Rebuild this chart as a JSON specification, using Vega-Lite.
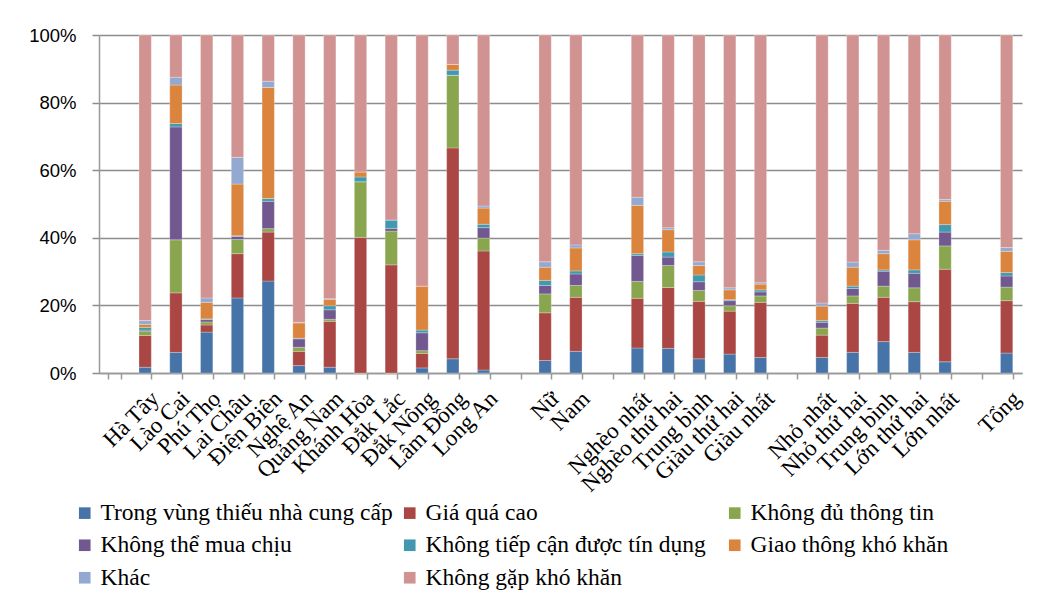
{
  "$schema": "https://vega.github.io/schema/vega-lite/v6.json",
  "autosize": {"type": "none"},
  "width": 923,
  "height": 338,
  "padding": {"left": 99, "top": 35, "right": 18, "bottom": 229},
  "background": "white",
  "config": {"view": {"stroke": null}},
  "datasets": {
    "series": [
      {"s": "Trong vùng thiếu nhà cung cấp", "k": 1},
      {"s": "Giá quá cao", "k": 2},
      {"s": "Không đủ thông tin", "k": 3},
      {"s": "Không thể mua chịu", "k": 4},
      {"s": "Không tiếp cận được tín dụng", "k": 5},
      {"s": "Giao thông khó khăn", "k": 6},
      {"s": "Khác", "k": 7},
      {"s": "Không gặp khó khăn", "k": 8}
    ]
  },
  "data": {"values": [
    {"c": "Hà Tây", "Trong vùng thiếu nhà cung cấp": 1.7, "Giá quá cao": 9.4, "Không đủ thông tin": 1.3, "Không thể mua chịu": 0.3, "Không tiếp cận được tín dụng": 0.8, "Giao thông khó khăn": 0.9, "Khác": 1.1, "Không gặp khó khăn": 84.5},
    {"c": "Lào Cai", "Trong vùng thiếu nhà cung cấp": 6.1, "Giá quá cao": 17.6, "Không đủ thông tin": 15.7, "Không thể mua chịu": 33.4, "Không tiếp cận được tín dụng": 1.0, "Giao thông khó khăn": 11.4, "Khác": 2.3, "Không gặp khó khăn": 12.5},
    {"c": "Phú Thọ", "Trong vùng thiếu nhà cung cấp": 12.1, "Giá quá cao": 2.1, "Không đủ thông tin": 0.9, "Không thể mua chịu": 0.7, "Không tiếp cận được tín dụng": 0.2, "Giao thông khó khăn": 4.9, "Khác": 1.3, "Không gặp khó khăn": 77.8},
    {"c": "Lai Châu", "Trong vùng thiếu nhà cung cấp": 22.2, "Giá quá cao": 13.1, "Không đủ thông tin": 4.2, "Không thể mua chịu": 0.9, "Không tiếp cận được tín dụng": 0.2, "Giao thông khó khăn": 15.3, "Khác": 7.9, "Không gặp khó khăn": 36.2},
    {"c": "Điện Biên", "Trong vùng thiếu nhà cung cấp": 27.2, "Giá quá cao": 14.5, "Không đủ thông tin": 1.0, "Không thể mua chịu": 8.1, "Không tiếp cận được tín dụng": 0.8, "Giao thông khó khăn": 32.9, "Khác": 1.8, "Không gặp khó khăn": 13.7},
    {"c": "Nghệ An", "Trong vùng thiếu nhà cung cấp": 2.2, "Giá quá cao": 4.2, "Không đủ thông tin": 1.2, "Không thể mua chịu": 2.5, "Không tiếp cận được tín dụng": 0.2, "Giao thông khó khăn": 4.5, "Khác": 0.2, "Không gặp khó khăn": 85.0},
    {"c": "Quảng Nam", "Trong vùng thiếu nhà cung cấp": 1.7, "Giá quá cao": 13.6, "Không đủ thông tin": 0.6, "Không thể mua chịu": 2.8, "Không tiếp cận được tín dụng": 1.2, "Giao thông khó khăn": 1.9, "Khác": 0.2, "Không gặp khó khăn": 78.0},
    {"c": "Khánh Hòa", "Trong vùng thiếu nhà cung cấp": 0, "Giá quá cao": 40.1, "Không đủ thông tin": 16.5, "Không thể mua chịu": 0, "Không tiếp cận được tín dụng": 1.4, "Giao thông khó khăn": 1.5, "Khác": 0, "Không gặp khó khăn": 40.5},
    {"c": "Đắk Lắc", "Trong vùng thiếu nhà cung cấp": 0, "Giá quá cao": 32.0, "Không đủ thông tin": 10.0, "Không thể mua chịu": 0.8, "Không tiếp cận được tín dụng": 2.5, "Giao thông khó khăn": 0, "Khác": 0, "Không gặp khó khăn": 54.7},
    {"c": "Đắk Nông", "Trong vùng thiếu nhà cung cấp": 1.5, "Giá quá cao": 4.3, "Không đủ thông tin": 0.8, "Không thể mua chịu": 5.3, "Không tiếp cận được tín dụng": 0.8, "Giao thông khó khăn": 13.0, "Khác": 0, "Không gặp khó khăn": 74.3},
    {"c": "Lâm Đồng", "Trong vùng thiếu nhà cung cấp": 4.2, "Giá quá cao": 62.4, "Không đủ thông tin": 21.5, "Không thể mua chịu": 0, "Không tiếp cận được tín dụng": 1.5, "Giao thông khó khăn": 1.7, "Khác": 0, "Không gặp khó khăn": 8.7},
    {"c": "Long An", "Trong vùng thiếu nhà cung cấp": 0.9, "Giá quá cao": 35.2, "Không đủ thông tin": 3.8, "Không thể mua chịu": 3.1, "Không tiếp cận được tín dụng": 1.0, "Giao thông khó khăn": 4.8, "Khác": 0.6, "Không gặp khó khăn": 50.6},
    {"c": "Nữ", "Trong vùng thiếu nhà cung cấp": 3.7, "Giá quá cao": 14.1, "Không đủ thông tin": 5.6, "Không thể mua chịu": 2.5, "Không tiếp cận được tín dụng": 1.5, "Giao thông khó khăn": 3.9, "Khác": 1.6, "Không gặp khó khăn": 67.1},
    {"c": "Nam", "Trong vùng thiếu nhà cung cấp": 6.4, "Giá quá cao": 16.0, "Không đủ thông tin": 3.5, "Không thể mua chịu": 3.4, "Không tiếp cận được tín dụng": 0.9, "Giao thông khó khăn": 6.8, "Khác": 0.9, "Không gặp khó khăn": 62.1},
    {"c": "Nghèo nhất", "Trong vùng thiếu nhà cung cấp": 7.4, "Giá quá cao": 14.7, "Không đủ thông tin": 5.0, "Không thể mua chịu": 7.7, "Không tiếp cận được tín dụng": 0.5, "Giao thông khó khăn": 14.3, "Khác": 2.4, "Không gặp khó khăn": 48.0},
    {"c": "Nghèo thứ hai", "Trong vùng thiếu nhà cung cấp": 7.3, "Giá quá cao": 18.0, "Không đủ thông tin": 6.5, "Không thể mua chịu": 2.5, "Không tiếp cận được tín dụng": 1.5, "Giao thông khó khăn": 6.6, "Khác": 0.6, "Không gặp khó khăn": 57.0},
    {"c": "Trung bình", "Trong vùng thiếu nhà cung cấp": 4.2, "Giá quá cao": 17.0, "Không đủ thông tin": 3.2, "Không thể mua chịu": 2.6, "Không tiếp cận được tín dụng": 2.0, "Giao thông khó khăn": 2.8, "Khác": 1.1, "Không gặp khó khăn": 67.1},
    {"c": "Giàu thứ hai", "Trong vùng thiếu nhà cung cấp": 5.6, "Giá quá cao": 12.7, "Không đủ thông tin": 1.6, "Không thể mua chịu": 1.5, "Không tiếp cận được tín dụng": 0.3, "Giao thông khó khăn": 2.9, "Khác": 0.6, "Không gặp khó khăn": 74.8},
    {"c": "Giàu nhất", "Trong vùng thiếu nhà cung cấp": 4.6, "Giá quá cao": 16.3, "Không đủ thông tin": 1.9, "Không thể mua chịu": 1.2, "Không tiếp cận được tín dụng": 0.6, "Giao thông khó khăn": 1.7, "Khác": 0.4, "Không gặp khó khăn": 73.3},
    {"c": "Nhỏ nhất", "Trong vùng thiếu nhà cung cấp": 4.6, "Giá quá cao": 6.6, "Không đủ thông tin": 2.1, "Không thể mua chịu": 1.7, "Không tiếp cận được tín dụng": 0.5, "Giao thông khó khăn": 4.3, "Khác": 0.9, "Không gặp khó khăn": 79.3},
    {"c": "Nhỏ thứ hai", "Trong vùng thiếu nhà cung cấp": 6.1, "Giá quá cao": 14.5, "Không đủ thông tin": 2.2, "Không thể mua chịu": 2.2, "Không tiếp cận được tín dụng": 0.7, "Giao thông khó khăn": 5.6, "Khác": 1.5, "Không gặp khó khăn": 67.2},
    {"c": " Trung bình", "Trong vùng thiếu nhà cung cấp": 9.3, "Giá quá cao": 13.1, "Không đủ thông tin": 3.3, "Không thể mua chịu": 4.4, "Không tiếp cận được tín dụng": 0.4, "Giao thông khó khăn": 4.8, "Khác": 1.0, "Không gặp khó khăn": 63.7},
    {"c": "Lớn thứ hai", "Trong vùng thiếu nhà cung cấp": 6.1, "Giá quá cao": 15.0, "Không đủ thông tin": 4.1, "Không thể mua chịu": 4.3, "Không tiếp cận được tín dụng": 1.0, "Giao thông khó khăn": 8.9, "Khác": 1.8, "Không gặp khó khăn": 58.8},
    {"c": "Lớn nhất", "Trong vùng thiếu nhà cung cấp": 3.3, "Giá quá cao": 27.4, "Không đủ thông tin": 6.9, "Không thể mua chịu": 4.1, "Không tiếp cận được tín dụng": 2.2, "Giao thông khó khăn": 6.9, "Khác": 0.5, "Không gặp khó khăn": 48.7},
    {"c": "Tổng", "Trong vùng thiếu nhà cung cấp": 5.9, "Giá quá cao": 15.5, "Không đủ thông tin": 4.0, "Không thể mua chịu": 3.3, "Không tiếp cận được tín dụng": 1.0, "Giao thông khó khăn": 6.3, "Khác": 1.1, "Không gặp khó khăn": 62.9}
  ]},
  "transform": [
    {"fold": ["Trong vùng thiếu nhà cung cấp", "Giá quá cao", "Không đủ thông tin", "Không thể mua chịu", "Không tiếp cận được tín dụng", "Giao thông khó khăn", "Khác", "Không gặp khó khăn"], "as": ["s", "v"]},
    {"lookup": "s", "from": {"data": {"name": "series"}, "key": "s", "fields": ["k"]}}
  ],
  "mark": {"type": "bar", "stroke": "white", "strokeWidth": 0.5, "strokeOpacity": 0.5},
  "encoding": {
    "x": {
      "field": "c", "type": "nominal",
      "scale": {
        "domain": ["_g0", "Hà Tây", "Lào Cai", "Phú Thọ", "Lai Châu", "Điện Biên", "Nghệ An", "Quảng Nam", "Khánh Hòa", "Đắk Lắc", "Đắk Nông", "Lâm Đồng", "Long An", "_g1", "Nữ", "Nam", "_g2", "Nghèo nhất", "Nghèo thứ hai", "Trung bình", "Giàu thứ hai", "Giàu nhất", "_g3", "Nhỏ nhất", "Nhỏ thứ hai", " Trung bình", "Lớn thứ hai", "Lớn nhất", "_g4", "Tổng"],
        "paddingInner": 0.6, "paddingOuter": 0.3
      },
      "axis": {
        "title": null,
        "labelExpr": "indexof(datum.label, '_g') == 0 ? '' : trim(datum.label)",
        "labelAngle": -45, "labelAlign": "right", "labelBaseline": "top",
        "labelFont": "Liberation Serif", "labelFontSize": 23, "labelColor": "#000000",
        "labelOffset": 2, "labelPadding": 8, "labelOverlap": false, "labelLimit": 400,
        "tickBand": "extent", "tickSize": 6, "tickColor": "#999999", "tickWidth": 1.5,
        "domainColor": "#999999", "domainWidth": 1.5, "grid": false
      }
    },
    "y": {
      "field": "v", "type": "quantitative", "stack": "normalize",
      "scale": {"domain": [0, 1], "nice": false},
      "axis": {
        "title": null, "format": ".0%", "values": [0, 0.2, 0.4, 0.6, 0.8, 1],
        "labelFont": "Liberation Sans", "labelFontSize": 18.5, "labelColor": "#000000", "labelPadding": 16,
        "tickSize": 7, "tickColor": "#8c8c8c", "tickWidth": 1.5,
        "domainColor": "#999999", "domainWidth": 1.5,
        "grid": true, "gridColor": "#8c8c8c", "gridWidth": 1.5
      }
    },
    "order": {"field": "k", "type": "quantitative", "sort": "ascending"},
    "color": {
      "field": "s", "type": "nominal",
      "sort": ["Trong vùng thiếu nhà cung cấp", "Giá quá cao", "Không đủ thông tin", "Không thể mua chịu", "Không tiếp cận được tín dụng", "Giao thông khó khăn", "Khác", "Không gặp khó khăn"],
      "scale": {
        "domain": ["Trong vùng thiếu nhà cung cấp", "Giá quá cao", "Không đủ thông tin", "Không thể mua chịu", "Không tiếp cận được tín dụng", "Giao thông khó khăn", "Khác", "Không gặp khó khăn"],
        "range": ["#4673A8", "#AA4643", "#89A54E", "#71588F", "#4198AF", "#DB843D", "#93A9CF", "#D19392"]
      },
      "legend": {
        "title": null, "orient": "none", "legendX": -26, "legendY": 466,
        "direction": "horizontal", "columns": 3, "gridAlign": "all",
        "columnPadding": 5, "rowPadding": 7.5, "padding": 0,
        "symbolType": "square", "symbolSize": 135, "symbolStrokeWidth": 0, "symbolOffset": 0,
        "labelFont": "Liberation Serif", "labelFontSize": 23.5, "labelColor": "#000000", "labelOffset": 4, "labelLimit": 400
      }
    }
  }
}
